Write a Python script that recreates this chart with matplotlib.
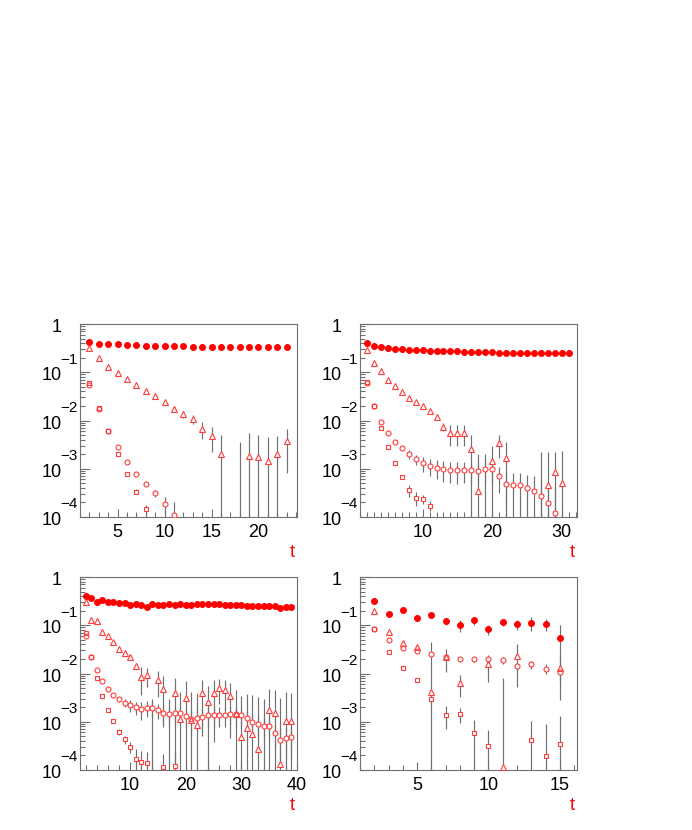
import numpy as np
import matplotlib.pyplot as plt
from matplotlib.ticker import FixedLocator, MultipleLocator, LogLocator, NullFormatter

plt.rcParams['font.family'] = ['Liberation Sans', 'DejaVu Sans']

nan = np.nan

# ---- panel 1 (top left) ----
t1 = list(range(2, 24))
p1_dot = [0.43, 0.39, 0.385, 0.38, 0.367, 0.361, 0.356, 0.35, 0.35, 0.344, 0.344,
          0.339, 0.339, 0.339, 0.334, 0.334, 0.334, 0.334, 0.33, 0.33, 0.33, 0.33]
p1_tri = [0.313, 0.194, 0.131, 0.0964, 0.0724, 0.0536, 0.0409, 0.0317, 0.0242, 0.0176, 0.0136,
          0.0107, 0.00677, 0.00485, 0.00202, nan, 0.0, 0.00187, 0.00172, 0.00145, 0.00202, 0.0037]
p1_tri_err = [0.003, 0.002, 0.0015, 0.0012, 0.0012, 0.0012, 0.0012, 0.0015, 0.0018, 0.0024, 0.0021,
              0.0023, 0.0027, 0.0026, 0.003, 0.0, 0.0035, 0.0036, 0.0033, 0.003, 0.0028, 0.0029]
p1_circ = [0.0544, 0.0173, 0.00606, 0.00278, 0.00136, 0.000766, 0.000483, 0.000309, 0.000189, 0.00011]
p1_circ_err = [0.001, 0.0004, 0.00015, 0.0001, 0.00008, 0.00006, 0.00005, 0.00005, 0.00007, 0.00009]
p1_sq = [0.0599, 0.0185, 0.00615, 0.00199, 0.000778, 0.000335, 0.000146]
p1_sq_err = [0.001, 0.0004, 0.00015, 0.00008, 0.00005, 0.00004, 0.00003]

# ---- panel 2 (top right) ----
t2 = list(range(2, 32))
p2_dot = [0.397, 0.356, 0.334, 0.323, 0.308, 0.303, 0.294, 0.289, 0.285, 0.280, 0.276, 0.276,
          0.271, 0.271, 0.267, 0.263, 0.263, 0.259, 0.259, 0.255, 0.255, 0.255, 0.251, 0.251,
          0.251, 0.247, 0.247, 0.247, 0.247, 0.247]
p2_tri = [0.289, 0.158, 0.1045, 0.0702, 0.0519, 0.039, 0.0293, 0.0245, 0.0203, 0.016, 0.012,
          0.00745, 0.00542, 0.0055, 0.0054, 0.00252, 0.000346, 0.0, 0.00145, 0.00336, 0.00164,
          nan, nan, nan, nan, 0.0, 0.000453, 0.000843, 0.000507]
p2_tri_err = [0.003, 0.002, 0.0015, 0.0012, 0.001, 0.001, 0.001, 0.001, 0.001, 0.001, 0.0012,
              0.0015, 0.0025, 0.0025, 0.0025, 0.0025, 0.0017, 0.002, 0.0015, 0.0017, 0.002,
              0.0, 0.0, 0.0, 0.0, 0.0022, 0.0018, 0.0014, 0.0018]
p2_circ = [0.0589, 0.0203, 0.00946, 0.00542, 0.00364, 0.00265, 0.00199, 0.00157, 0.00129, 0.00116,
           0.00105, 0.00099, 0.00096, 0.00093, 0.00095, 0.00095, 0.00091, 0.00098, 0.00099, 0.000708,
           0.00049, 0.000468, 0.000468, 0.000405, 0.000346, 0.000277, 0.000192, 0.000119]
p2_circ_err = [0.001, 0.0005, 0.0003, 0.0002, 0.0002, 0.0002, 0.0004, 0.0004, 0.00045, 0.00045,
               0.00045, 0.00045, 0.00045, 0.00045, 0.00045, 0.00045, 0.00045, 0.00045, 0.00045, 0.0004,
               0.00035, 0.00035, 0.00035, 0.00035, 0.00035, 0.0003, 0.0003, 0.0003]
p2_sq = [0.0628, 0.0203, 0.0071, 0.00287, 0.00129, 0.000664, 0.000357, 0.000252, 0.00024, 0.000172]
p2_sq_err = [0.001, 0.0004, 0.00015, 0.0001, 0.00006, 0.00006, 0.0001, 0.00008, 0.00005, 0.00004]

# ---- panel 3 (bottom left) ----
t3 = list(range(2, 40))
p3_dot = [0.41, 0.373, 0.31, 0.34, 0.303, 0.299, 0.294, 0.283, 0.267, 0.276, 0.263, 0.243,
          0.280, 0.267, 0.267, 0.276, 0.267, 0.27, 0.268, 0.268, 0.27, 0.27, 0.27, 0.27, 0.27,
          0.268, 0.265, 0.262, 0.258, 0.256, 0.255, 0.253, 0.25, 0.247, 0.25, 0.226, 0.24, 0.24]
p3_tri = [0.299, 0.128, 0.1205, 0.0736, 0.0598, 0.0442, 0.0317, 0.027, 0.0223, 0.0145, 0.0086,
          0.0093, 0.0, 0.00733, 0.00477, 0.0, 0.00388, 0.00114, 0.00306, 0.00109, 0.000857,
          0.00401, 0.00261, 0.00388, 0.00508, 0.00455, 0.00347, 0.00145, 0.000475, 0.00073,
          0.000557, 0.000268, 0.0, 0.00175, 0.00149, 0.000133, 0.00105, 0.00103]
p3_tri_err = [0.003, 0.002, 0.002, 0.0015, 0.0015, 0.0015, 0.0015, 0.0015, 0.002, 0.002, 0.005,
              0.004, 0.003, 0.004, 0.004, 0.003, 0.004, 0.003, 0.004, 0.003, 0.003,
              0.0035, 0.003, 0.0035, 0.0027, 0.0028, 0.003, 0.003, 0.003, 0.003,
              0.003, 0.003, 0.003, 0.003, 0.003, 0.003, 0.003, 0.003]
p3_circ = [0.0608, 0.0216, 0.0118, 0.007, 0.00485, 0.00364, 0.00292, 0.00249, 0.00222, 0.00199,
           0.00181, 0.00194, 0.00197, 0.00175, 0.00149, 0.00144, 0.00149, 0.00149, 0.00134, 0.00112,
           0.0012, 0.00127, 0.00138, 0.00138, 0.00138, 0.00138, 0.00144, 0.00142, 0.00136, 0.0012,
           0.001, 0.00088, 0.00083, 0.00083, 0.000575, 0.000418, 0.000468, 0.000475]
p3_circ_err = [0.001, 0.0005, 0.0003, 0.0003, 0.0003, 0.0003, 0.0003, 0.0005, 0.0006, 0.0006,
               0.0007, 0.0007, 0.0007, 0.0006, 0.0006, 0.0006, 0.0006, 0.0006, 0.0006, 0.0006,
               0.0006, 0.0006, 0.0006, 0.0006, 0.0006, 0.0006, 0.0006, 0.0006, 0.0006, 0.0005,
               0.0005, 0.0004, 0.0004, 0.0004, 0.0003, 0.0003, 0.0003, 0.0003]
p3_sq = [0.068, 0.0216, 0.00794, 0.00347, 0.00175, 0.00104, 0.000613, 0.000432, 0.000305,
         0.000169, 0.000149, 0.000138, nan, nan, 0.000117, nan, 0.000122]
p3_sq_err = [0.001, 0.0004, 0.0002, 0.0001, 0.00008, 0.00008, 0.00008, 0.00008, 0.00008,
             0.0001, 0.0001, 0.0001, 0.0, 0.0, 0.0001, 0.0, 0.0001]

# ---- panel 4 (bottom right) ----
t4 = list(range(2, 16))
p4_dot = [0.318, 0.171, 0.21, 0.139, 0.16, 0.1225, 0.0996, 0.126, 0.0836, 0.117, 0.106, 0.111, 0.1045, 0.0553]
p4_dot_err = [0.005, 0.005, 0.006, 0.006, 0.008, 0.02, 0.028, 0.025, 0.02, 0.02, 0.025, 0.035, 0.03, 0.045]
p4_tri = [0.194, 0.0713, 0.0422, 0.0348, 0.00407, 0.0216, 0.00625, nan, 0.0155, 0.000117, 0.0231, nan, nan, 0.0128]
p4_tri_err = [0.004, 0.003, 0.003, 0.003, 0.04, 0.0106, 0.003, 0.0, 0.0087, 0.0078, 0.0178, 0.0, 0.0, 0.01]
p4_circ = [0.0836, 0.0495, 0.0332, 0.0293, 0.0254, 0.0216, 0.0203, 0.0197, 0.0197, 0.0188, 0.0141, 0.0155, 0.0126, 0.0106]
p4_circ_err = [0.002, 0.0015, 0.0015, 0.0015, 0.0015, 0.002, 0.002, 0.002, 0.003, 0.003, 0.003, 0.003, 0.003, 0.004]
p4_sq = [0.0836, 0.0275, 0.013, 0.00722, 0.00292, 0.0014, 0.00144, 0.000575, 0.000319, nan, nan, 0.000418, 0.000195, 0.000346]
p4_sq_err = [0.002, 0.001, 0.0008, 0.0006, 0.0006, 0.0007, 0.0005, 0.0005, 0.00035, 0.0, 0.0, 0.0006, 0.0007, 0.001]

RED = '#ff0000'
OPEN = '#ff3c3c'
FRAME = '#707070'
ERRC = '#707070'


#error bars go under everything, a white blob hides the bar inside each open marker
def draw_bars(ax, t, vals, errs, marker, ms):
    t = t[:len(vals)]
    if errs is not None:
        ax.errorbar(t, vals, yerr=errs, fmt='none', ecolor=ERRC, elinewidth=0.85, zorder=2)
    ax.plot(t, vals, linestyle='none', marker=marker, ms=ms, mfc='white', mec='none', zorder=3)


def draw_marks(ax, t, vals, marker, filled, ms):
    t = t[:len(vals)]
    face = RED if filled else 'none'
    edge = RED if filled else OPEN
    ax.plot(t, vals, linestyle='none', marker=marker, ms=ms, mfc=face, mec=edge, mew=0.8, zorder=4)


#ROOT style labels for the log axis: "10" centred on the tick with a big exponent above it
def log_labels(ax):
    for k in range(-4, 1):
        y = 10.0 ** k
        base = '1' if k == 0 else '10'
        ax.annotate(base, xy=(0, y), xycoords=('axes fraction', 'data'), xytext=(-13, -5.8),
                    textcoords='offset points', ha='right', va='baseline', fontsize=13)
        if k != 0:
            ax.annotate('\u2212%d' % (-k), xy=(0, y), xycoords=('axes fraction', 'data'),
                        xytext=(-14.4, 6.2), textcoords='offset points', ha='left',
                        va='baseline', fontsize=11)


def setup_axes(ax, xmax, xmajor, xminor):
    ax.set_yscale('log')
    ax.set_ylim(1e-4, 1)
    ax.set_xlim(1, xmax)
    ax.yaxis.set_major_locator(LogLocator(base=10, numticks=10))
    ax.yaxis.set_minor_locator(LogLocator(base=10, subs=np.arange(2, 10), numticks=10))
    ax.yaxis.set_major_formatter(NullFormatter())
    ax.yaxis.set_minor_formatter(NullFormatter())
    ax.xaxis.set_major_locator(FixedLocator(xmajor))
    ax.xaxis.set_minor_locator(MultipleLocator(xminor))
    ax.tick_params(which='both', direction='in', top=False, right=False, color=FRAME, width=0.8)
    ax.tick_params(axis='y', which='major', length=7)
    ax.tick_params(axis='y', which='minor', length=3.6)
    ax.tick_params(axis='x', which='major', length=6, labelsize=13, pad=5)
    ax.tick_params(axis='x', which='minor', length=3.6)
    for s in ax.spines.values():
        s.set_color(FRAME)
        s.set_linewidth(0.8)
    log_labels(ax)
    ax.annotate('t', xy=(1, 0), xycoords='axes fraction', xytext=(-1.5, -28.8),
                textcoords='offset points', ha='right', va='baseline', fontsize=13, color=RED)


def draw_panel(ax, t, dot, dot_err, tri, tri_err, circ, circ_err, sq, sq_err):
    series = [(sq, sq_err, 's', False, 3.5), (circ, circ_err, 'o', False, 3.6),
              (tri, tri_err, '^', False, 3.9), (dot, dot_err, 'o', True, 4.2)]
    for vals, errs, marker, filled, ms in series:
        draw_bars(ax, t, vals, errs, marker, ms)
    for vals, errs, marker, filled, ms in series:
        draw_marks(ax, t, vals, marker, filled, ms)


fig = plt.figure(figsize=(6.92, 8.30), dpi=100)
W = 217 / 692
H = 193 / 830
ax1 = fig.add_axes([80 / 692, 1 - 517 / 830, W, H])
ax2 = fig.add_axes([360 / 692, 1 - 517 / 830, W, H])
ax3 = fig.add_axes([80 / 692, 1 - 770 / 830, W, H])
ax4 = fig.add_axes([360 / 692, 1 - 770 / 830, W, H])

draw_panel(ax1, t1, p1_dot, None, p1_tri, p1_tri_err, p1_circ, p1_circ_err, p1_sq, p1_sq_err)
setup_axes(ax1, 24.1, [5, 10, 15, 20], 1)

draw_panel(ax2, t2, p2_dot, None, p2_tri, p2_tri_err, p2_circ, p2_circ_err, p2_sq, p2_sq_err)
setup_axes(ax2, 32.2, [10, 20, 30], 1)

draw_panel(ax3, t3, p3_dot, None, p3_tri, p3_tri_err, p3_circ, p3_circ_err, p3_sq, p3_sq_err)
setup_axes(ax3, 40, [10, 20, 30, 40], 2)

draw_panel(ax4, t4, p4_dot, p4_dot_err, p4_tri, p4_tri_err, p4_circ, p4_circ_err, p4_sq, p4_sq_err)
setup_axes(ax4, 16.2, [5, 10, 15], 1)

fig.savefig('out.png', dpi=100)
